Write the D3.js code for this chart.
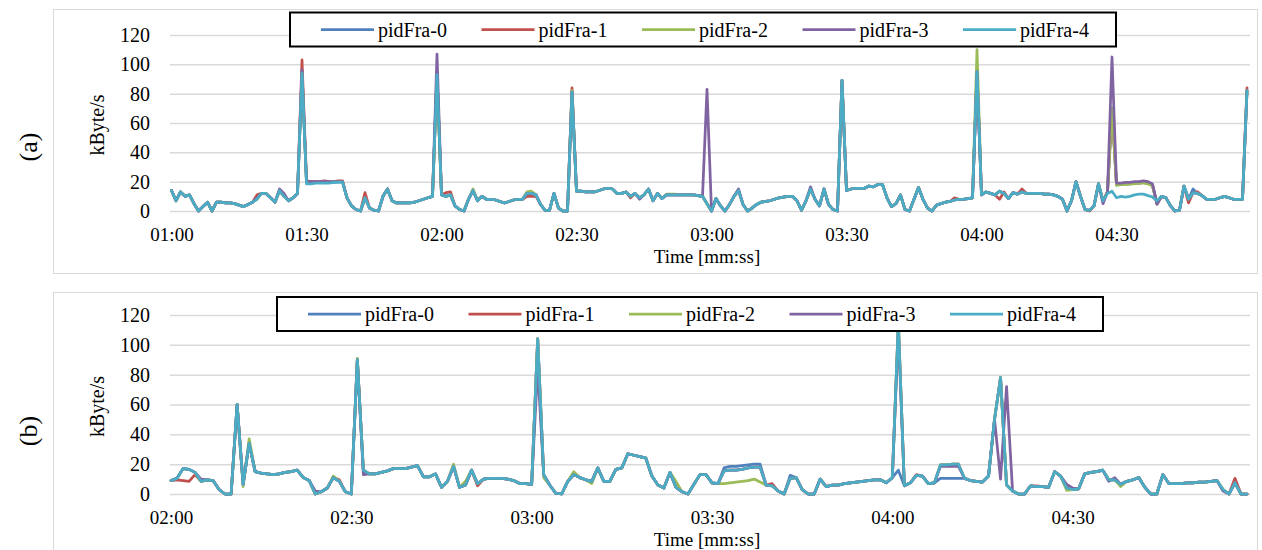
<!DOCTYPE html>
<html>
<head>
<meta charset="utf-8">
<script src="https://cdn.jsdelivr.net/npm/d3@7"></script>
<style>
  body { margin: 0; background: #fff; }
  svg text { font-family: "Liberation Serif", "Tinos", "Times New Roman", "DejaVu Serif", serif !important; fill: #000; }
</style>
</head>
<body>
<div id="chart"></div>
<script>
var seriesNames = ["pidFra-0", "pidFra-1", "pidFra-2", "pidFra-3", "pidFra-4"];
var seriesColors = ["#4f81bd", "#c0504d", "#9bbb59", "#8064a2", "#4bacc6"];
var yTicks = [0, 20, 40, 60, 80, 100, 120];

// panel (a): one value per second, 01:00 .. 04:59
var topTickLabels = ["01:00", "01:30", "02:00", "02:30", "03:00", "03:30", "04:00", "04:30"];
var topPid0 = [14,7,13,10,11,5,0,3,6,0, 6,6,5.5,5.5,5,4,3,4.5,6,8.5, 12,12,9,6,14,10,7,9,12,95,
  19.5,19.5,19.5,19.5,20,19.5,19.5,20,20,9, 3.5,1,0,9,2,0.5,0,10,15,7, 5.5,5.5,5.5,5.5,6,7,8,9,10,95,
  11,10,11,3.5,1,0,8,14,7,10, 8,8,7.5,6.5,5.5,6.5,7.5,8,8,12, 12,11,4.5,0.5,0.5,12,2,0,0,82,
  13.5,13.5,13,13,13,14,15,15.5,15,12, 12,13,10,12,9,11,15,7,12,8.5, 11,11,11,11,11,11,11,10.5,10,5,
  0,8.5,3.5,0,4.5,10,14,4.5,0,2, 4.5,6,6.5,7,8,9,9.5,10,10,7, 0.5,7,15,8,3.5,15,4.5,1,0,89,
  14,15,15.5,15.5,15.5,17,16.5,18,18,9, 3,5,11,1,0,8,16,8,2,0, 4,5,6,6.5,7.5,8,8,8.5,9,95,
  11,13,12,11,13.5,12,8.5,12.5,11.5,13, 12,12,12,12,11.5,11.5,11,10,8,0, 7,20,10,1,0.5,3.5,18.5,7,13,70,
  18,18,18.5,18.5,19,19,19.5,19,17.5,5, 10,9,3.5,0,0.5,17,8,15,12,10.5, 8,8,8,9,10,9,8,8,8,82];
var topPid1 = [14,7,13,10,11,5,0,3,6,0, 6,6,5.5,5.5,5,4,3,4.5,6,11, 12,12,9,6,14,10,7,9,12,103,
  20.5,20,20,20,20.5,20,20,20.5,20.5,9, 3.5,1,0,12.5,2,0.5,0,10,15,7, 5.5,5.5,5.5,5.5,6,7,8,9,10,93,
  11,12.5,13,3.5,1,0,8,14,7,10, 8,8,7.5,6.5,5.5,6.5,7.5,8,8,10, 10,10,4.5,0.5,0.5,12,2,0,0,84,
  13.5,13.5,13,13,13,14,15,15.5,15,12, 12,13,9,12,9,11,15,7,12,8.5, 11,11,11,11,11,11,11,10.5,10,5,
  0,8.5,3.5,0,4.5,10,14,4.5,0,2, 4.5,6,6.5,7,8,9,9.5,10,10,7, 0.5,7,15,8,3.5,15,4.5,1,0,89,
  14,15,15.5,15.5,15.5,17,16.5,18,18,9, 3,5,11,1,0,8,16,8,2,0, 4,5,6,6.5,9,8,8,8.5,9,95,
  11,13,12,11,8,13,8.5,12.5,11.5,15, 12,12,12,12,11.5,11.5,11,10,8,0, 7,20,10,1,0,3.5,18.5,7,13,70,
  18,18,18.5,18.5,19,19,19.5,19,17.5,5, 10,9,3.5,0,0.5,17,5.5,12.5,13,10.5, 8,8,8,9,10,9,8,8,8,84];
var topPid2 = [14,7,13,10,11,5,0,3,6,0, 6,6,5.5,5.5,5,4,3,4.5,6,8, 12,12,9,6,14,10,7,9,12,93,
  19.5,19.5,19.5,19.5,19.5,19.5,20,20,20,9, 3.5,1,0,9,2,0.5,0,10,15,7, 5.5,5.5,5.5,5.5,6,7,8,9,10,93,
  11,10,11,3.5,1,0,8,15,7.5,10, 8,8,7.5,6.5,5.5,6.5,7.5,8,8,13, 13.5,11,4.5,0.5,0.5,12,2,0,0,82,
  13.5,13.5,13,13,13,14,15,15.5,15,12, 12,13,10,12,9,11,15,7,12,8.5, 11.5,11.5,11.5,11,11,11,11,10.5,10,5,
  0,8.5,3.5,0,4.5,10,14,4.5,0,2, 4.5,6,6.5,7,8,9,9.5,10,10,7, 0.5,7,15,8,3.5,15,4.5,1,0,89,
  14,15,15.5,15.5,15.5,17,16.5,18,18,9, 3,5,11,1,0,8,16,8,2,0, 4,5,6,6.5,7.5,8,8,8.5,9,110,
  11,13,12,11,13.5,12,8.5,12.5,11.5,13, 12,12,12,12,11.5,11.5,11,10,8,0, 7,20,10,1,0.5,3.5,18.5,7,13,70,
  17.5,18,18,18.5,18.5,19,19,18.5,17,5, 10,9,3.5,0,0.5,17,8,12.5,12,10.5, 8,8,8,9,10,9,8,8,8,82];
var topPid3 = [14,7,13,10,11,5,0,3,6,0, 6,6,5.5,5.5,5,4,3,4.5,6,9, 12,12,9,6,15,12,7,9,12,96,
  20,20,20,20,20,20,20,20,20,9, 3.5,1,0,9,2,0.5,0,10,15,7, 5.5,5.5,5.5,5.5,6,7,8,9,10,107,
  11,10,11,3.5,1,0,8,14,7,10, 8,8,7.5,6.5,5.5,6.5,7.5,8,8,12, 12,11,4.5,0.5,0.5,12,2,0,0,81,
  13.5,13.5,13,13,13,14,15,15.5,15,12, 12,13,10,12,8,11,15,7,12,8.5, 11,11,11,11,11,11,11,10.5,10,83,
  0,8.5,3.5,0,4.5,10,15,4.5,0,2, 4.5,6,6.5,7,8,9,9.5,10,10,7, 0.5,7,16.5,8,3.5,15,4.5,1,0,89,
  14,15,15.5,15.5,15.5,17,16.5,18,18,9, 3,5,11,1,0,8,16,8,2,0, 4,5,6,6.5,7.5,8,8,8.5,9,95,
  11,13,12,11,13.5,12,8.5,12.5,11.5,13, 12,12,12,12,11.5,11.5,11,10,8,0, 7,20,10,1,0.5,3.5,18.5,5,13,105,
  19,19,19.5,19.5,20,20,20.5,20,18.5,4.5, 10,9,3.5,0,0.5,17,8,12.5,12,10.5, 8,8,8,9,10,9,8,8,8,82];
var topPid4 = [14,7,13,10,11,5,0,3,6,0, 6,6,5.5,5.5,5,4,3,4.5,6,8, 12,12,9,6,14,10,7,9,12,94,
  18.5,18.5,19,19,19,19,19.5,19.5,19.5,9, 3.5,1,0,9,2,0.5,0,10,15,7, 5.5,5.5,5.5,5.5,6,7,8,9,10,93,
  11,10,11,3.5,1,0,8,14,7,10, 8,8,7.5,6.5,5.5,6.5,7.5,8,8,12, 12,11,4.5,0.5,0.5,12,2,0,0,81,
  13.5,13.5,13,13,13,14,15,15.5,15,12, 12,13,10,12,9,11,15,7,12,8.5, 11,11,11,11,11,11,11,10.5,10,5,
  0,8.5,3.5,0,4.5,10,14,4.5,0,2, 4.5,6,6.5,7,8,9,9.5,10,10,7, 0.5,7,15,8,3.5,15,4.5,1,0,89,
  14,15,15.5,15.5,15.5,17,16.5,18,18,9, 3,5,11,1,0,8,16,8,2,0, 4,5,6,6.5,7.5,8,8,8.5,9,95,
  11,13,12,11,13.5,12,8.5,12.5,11.5,13, 12,12,12,12,11.5,11.5,11,10,8,0, 7,20,10,1,0.5,3.5,18.5,7,12,13.5,
  9,10,9.5,10,11,11.5,11.5,10.5,9.5,7, 10,9,3.5,0,0.5,17,8,12.5,12,10.5, 8,8,8,9,10,9,8,8,8,82];

// panel (b): one value per second, 02:00 .. 04:59
var botTickLabels = ["02:00", "02:30", "03:00", "03:30", "04:00", "04:30"];
var botPid0 = [9,10.5,17,16.5,14.5,8.5,9.5,9,3,0, 0,60,6.5,34,15,14,13.5,13,13.5,14.5,
  15,16,11,9,0,1.5,4,11,8.5,1.5, 0,90,16,13.5,13.5,14.5,15.5,17,17,17,
  18,19,11.5,11.5,13.5,4.5,8.5,18.5,4.5,6, 16,7,10,10.5,10.5,10.5,10,9,7,7,
  6.5,104,13,6,0.5,0,8.5,13,11,9.5, 8.5,17.5,8.5,8.5,16.5,17.5,27,26,25,24,
  12,6,4,14.5,4.5,1.5,0,6.5,13,13, 7.5,7,17.5,18.5,18.5,19,19.5,20,20,6,
  5.5,2,0,12.5,11,3,0,0,10,5, 6,6,7,7.5,8,8.5,9,9.5,9.5,7.5,
  11,16,5.5,7.5,12.5,12,7,7.5,10.5,10.5, 10.5,10.5,10.5,9,8.5,8,12,50,78,6,
  2,0,0,5.5,5,5,4.5,15,12,4, 3,3.5,13.5,14.5,15,16,9.5,9.5,6.5,8.5,
  9.5,11,4.5,0,0,13,7,7,7,7.5, 7.5,8,8,8.5,9,3,0,7.5,0,0];
var botPid1 = [9,9.5,9,8.5,13,8.5,9.5,9,3,0, 0,60,6.5,34,15,14,13.5,13,13.5,14.5,
  15,16,11,9,0,1.5,4,11,9.5,1.5, 0,90,16,13.5,13.5,14.5,15.5,17,17,17,
  18,19,11.5,11.5,13.5,4.5,8.5,18.5,4.5,6, 16,5.5,10,10.5,10.5,10.5,10,9,7,7,
  6.5,104,13,6,0.5,0,8.5,13,11,9.5, 8.5,17.5,8.5,8.5,16.5,17.5,27,26,25,24,
  12,6,4,14.5,4.5,1.5,0,6.5,13,13, 7.5,7,15.5,16,16,16.5,17.5,18,18,6,
  7,2,0,10.5,11,3,0,0,10,5, 6,6,7,7.5,8,8.5,9,9.5,9.5,7.5,
  11,115,5.5,7.5,13,12,7,7.5,19.5,19.5, 20,20,10.5,9,8.5,8,12,50,78,6,
  2,0,0,5.5,5.5,5,4.5,15,12,4, 3,3.5,13.5,14.5,15,16,9.5,9.5,6.5,8.5,
  9.5,11,4.5,0,0,13,7,7,7,7.5, 7.5,8,8,8.5,9,3,0,10.5,0,0];
var botPid2 = [9,10.5,17,16.5,14.5,8.5,9.5,9,3,0, 0,60,5,37,15,14,13.5,13,13.5,14.5,
  15,16,11,9,0,1.5,4,12,8.5,1.5, 0,91,16,13.5,13.5,14.5,15.5,17,17,17,
  18,19,11.5,11.5,13.5,4.5,8.5,20,4.5,8.5, 16,7,10,10.5,10.5,10.5,10,9,7,7,
  6.5,104,11,6,0.5,0,8.5,15,11,9.5, 7,17.5,8.5,8.5,16.5,17.5,27,26,25,24,
  12,6,4,14.5,8.5,1.5,0,6.5,13,13, 7.5,7,7,7.5,8,8.5,9,10,8,6,
  5.5,2,0,10.5,11,3,0,0,10,5, 6,6,7,7.5,8,8.5,9,9.5,9.5,7.5,
  11,115,5.5,7.5,12.5,12,7,7.5,19.5,19.5, 20,20,10.5,9,8.5,8,12,50,78,6,
  2,0,0,5.5,5,5,4.5,15,12,2.5, 3,3.5,13.5,14.5,15,16,9.5,9.5,5,8.5,
  9.5,11,4.5,0,0,13,7,7,7,7.5, 7.5,8,8,8.5,9,3,0,7.5,0,0];
var botPid3 = [9,10.5,17,16.5,14.5,10,9.5,9,3,0, 0,60,6.5,34,15,14,13.5,13,13.5,14.5,
  15,16,11,9,2,1.5,4,11,8.5,1.5, 0,90,13,13.5,13.5,14.5,15.5,17,17,17,
  18,19,11.5,11.5,13.5,4.5,8.5,18.5,4.5,6, 16,7,10,10.5,10.5,10.5,10,9,7,7,
  6.5,85,13,6,0.5,0,8.5,13,11,9.5, 8.5,17.5,8.5,8.5,16.5,17.5,27,26,25,24,
  12,6,4,14.5,4.5,1.5,0,6.5,13,13, 7.5,7,15.5,16,16,16.5,17.5,18,18,6,
  5.5,2,0,10.5,11,3,0,0,10,5, 6,6,7,7.5,8,8.5,9,9.5,9.5,7.5,
  11,110,5.5,7.5,12.5,12,7,7.5,18.5,18.5, 18.5,18.5,10.5,9,8.5,8,12,50,10,72,
  2,0,0,5.5,5,5,4.5,15,12,6.5, 4,3.5,13.5,14.5,15,16,8.5,11,6.5,8.5,
  9.5,11,4.5,0,0,13,7,7,7,7.5, 7.5,8,8,8.5,9,2,0,7.5,0,0];
var botPid4 = [9,10.5,17,16.5,14.5,8.5,9.5,9,3,0, 0,60,6.5,34,15,14,13.5,13,13.5,14.5,
  15,16,11,9,0,1.5,4,11,8.5,1.5, 0,90,16,13.5,13.5,14.5,15.5,17,17,17,
  18,19,11.5,11.5,13.5,4.5,8.5,18.5,4.5,6, 16,7,10,10.5,10.5,10.5,10,9,7,7,
  6.5,104,13,6,0.5,0,8.5,13,11,9.5, 8.5,17.5,8.5,8.5,16.5,17.5,27,26,25,24,
  12,6,4,14.5,4.5,1.5,0,6.5,13,13, 7.5,7,15.5,16,16,16.5,17.5,18,18,6,
  5.5,2,0,10.5,11,3,0,0,10,5, 6,6,7,7.5,8,8.5,9,9.5,9.5,7.5,
  11,115,5.5,7.5,12.5,12,7,7.5,19.5,19.5, 20,20,10.5,9,8.5,8,12,50,78,6,
  2,0,0,5.5,5,5,4.5,15,12,4, 3,3.5,13.5,14.5,15,16,9.5,9.5,6.5,8.5,
  9.5,11,4.5,0,0,13,7,7,7,7.5, 7.5,8,8,8.5,9,3,0,7.5,0,0];

var width = 1262, height = 550;
var fontSize = 20;
var xFontSize = 19;

var svg = d3.select("#chart").append("svg")
    .attr("width", width)
    .attr("height", height);

function drawPanel(p) {
  var g = svg.append("g");

  // outer frame
  g.append("rect")
      .attr("x", 53.5).attr("y", p.frameTop + 0.5)
      .attr("width", 1204).attr("height", p.frameHeight)
      .attr("fill", "none").attr("stroke", "#d9d9d9").attr("stroke-width", 1);

  var n = p.series[0].length;
  var x = d3.scaleLinear().domain([0, n - 1]).range([p.x0, p.x1]);
  var y = d3.scaleLinear().domain([0, 120]).range([p.yBottom, p.yTop]);

  // grid
  g.append("g")
      .attr("transform", "translate(170,0)")
      .call(d3.axisRight(y).tickValues(yTicks).tickSize(1080).tickFormat(""))
      .call(function(a) { a.select(".domain").remove(); })
      .selectAll("line")
      .attr("stroke", "#d9d9d9").attr("stroke-width", 1.5);

  // y labels
  g.append("g")
      .attr("transform", "translate(170,0)")
      .call(d3.axisLeft(y).tickValues(yTicks).tickSize(0).tickPadding(20))
      .call(function(a) { a.select(".domain").remove(); a.attr("font-family", null).attr("font-size", null); })
      .selectAll("text")
      .attr("font-size", fontSize);

  // x labels
  var tv = p.tickLabels.map(function(d, i) { return i * 30; });
  g.append("g")
      .attr("transform", "translate(0," + p.yBottom + ")")
      .call(d3.axisBottom(x).tickValues(tv).tickSize(0).tickPadding(0)
        .tickFormat(function(d, i) { return p.tickLabels[i]; }))
      .call(function(a) { a.select(".domain").remove(); a.attr("font-family", null).attr("font-size", null); })
      .selectAll("text")
      .attr("dy", null)
      .attr("y", 30)
      .attr("font-size", xFontSize);

  // axis titles
  g.append("text")
      .attr("x", 707).attr("y", p.yBottom + 52)
      .attr("text-anchor", "middle")
      .attr("font-size", xFontSize)
      .text("Time [mm:ss]");

  g.append("text")
      .attr("transform", "translate(104," + ((p.yTop + p.yBottom) / 2 + 2) + ") rotate(-90)")
      .attr("text-anchor", "middle")
      .attr("font-size", fontSize)
      .text("kByte/s");

  g.append("text")
      .attr("transform", "translate(37," + p.labelY + ") rotate(-90)")
      .attr("text-anchor", "middle")
      .attr("font-size", 26)
      .text(p.label);

  // series
  var line = d3.line()
      .x(function(d, i) { return x(i); })
      .y(function(d) { return y(d); });

  g.selectAll(".series")
      .data(p.series)
      .enter().append("path")
      .attr("class", "series")
      .attr("d", line)
      .attr("fill", "none")
      .attr("stroke", function(d, i) { return seriesColors[i]; })
      .attr("stroke-width", 2.75)
      .attr("stroke-linejoin", "round")
      .attr("stroke-linecap", "round");

  // legend
  var lg = g.append("g").attr("transform", "translate(" + p.legX + "," + p.legY + ")");
  lg.append("rect")
      .attr("x", 0).attr("y", 0)
      .attr("width", 826).attr("height", 34)
      .attr("fill", "#fff").attr("stroke", "#000").attr("stroke-width", 2);

  var item = lg.selectAll(".item")
      .data(seriesNames)
      .enter().append("g")
      .attr("class", "item")
      .attr("transform", function(d, i) { return "translate(" + (31 + i * 160.5) + ",17)"; });

  item.append("line")
      .attr("x1", 0).attr("x2", 53)
      .attr("stroke", function(d, i) { return seriesColors[i]; })
      .attr("stroke-width", 2.75);

  item.append("text")
      .attr("x", 57).attr("y", 7)
      .attr("font-size", fontSize)
      .text(function(d) { return d; });
}

drawPanel({
  frameTop: 9, frameHeight: 264,
  x0: 171.5, x1: 1247, yTop: 35, yBottom: 211,
  tickLabels: topTickLabels,
  series: [topPid0, topPid1, topPid2, topPid3, topPid4],
  legX: 290, legY: 12.5, label: "(a)", labelY: 147
});

drawPanel({
  frameTop: 292, frameHeight: 280,
  x0: 171, x1: 1247, yTop: 315, yBottom: 494,
  tickLabels: botTickLabels,
  series: [botPid0, botPid1, botPid2, botPid3, botPid4],
  legX: 277, legY: 297, label: "(b)", labelY: 431
});
</script>
</body>
</html>
